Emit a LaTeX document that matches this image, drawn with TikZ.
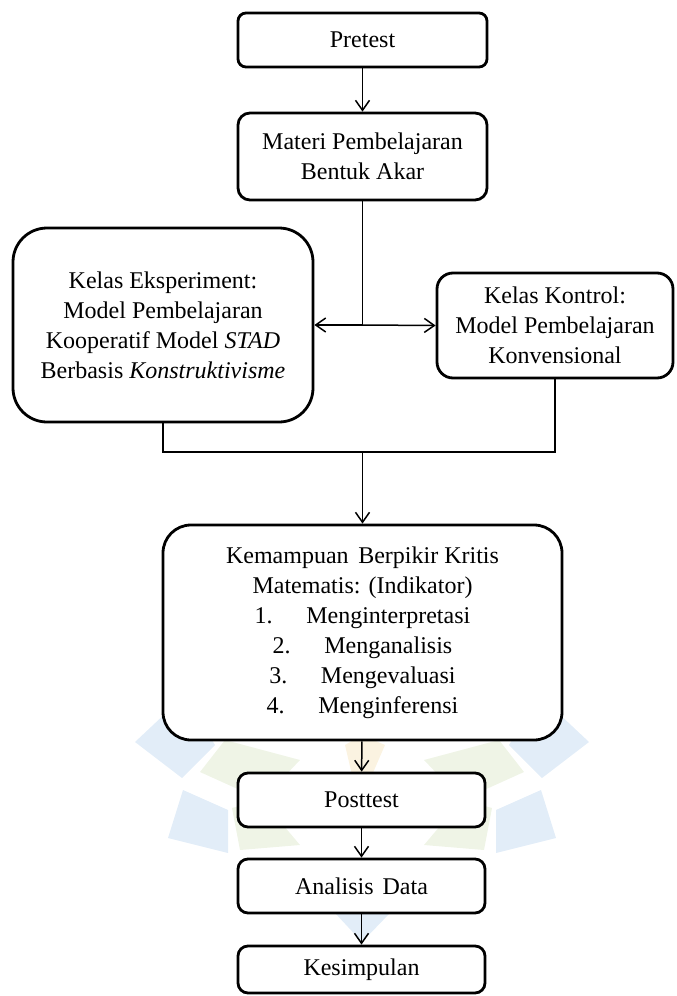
\documentclass[tikz,border=0pt]{standalone}
\usepackage{fontspec}
\setmainfont{Liberation Serif}
\usetikzlibrary{arrows.meta}
\definecolor{logobiru}{RGB}{226,237,248}
\definecolor{logohijau}{RGB}{239,244,230}
\definecolor{logooranye}{RGB}{251,243,225}

\begin{document}
\begin{tikzpicture}[x=0.5pt, y=-0.5pt,
    kotak/.style={draw, fill=white, line width=1.4pt, rounded corners=5pt, align=center,
                  font=\fontsize{12}{15}\selectfont, inner sep=2pt},
    panah/.style={-{Straight Barb[length=5pt,width=7pt]}, line width=0.75pt},
    garis/.style={line width=0.75pt}]

    \useasboundingbox (0,0) rectangle (676,996);

    % logo samar di latar
    \fill[logobiru] (135,742) -- (185,695) -- (215,745) -- (182,778) -- cycle;
    \fill[logobiru] (168,838) -- (183,790) -- (228,810) -- (228,853) -- cycle;
    \fill[logobiru] (589,742) -- (539,695) -- (509,745) -- (542,778) -- cycle;
    \fill[logobiru] (556,838) -- (541,790) -- (496,810) -- (496,853) -- cycle;
    \fill[logohijau] (200,772) -- (225,740) -- (300,760) -- (262,800) -- cycle;
    \fill[logohijau] (232,808) -- (262,800) -- (300,845) -- (240,850) -- cycle;
    \fill[logohijau] (524,772) -- (499,740) -- (424,760) -- (462,800) -- cycle;
    \fill[logohijau] (492,808) -- (462,800) -- (424,845) -- (484,850) -- cycle;
    \fill[logooranye] (345,745) -- (362,735) -- (385,745) -- (372,775) -- (352,775) -- cycle;
    \fill[logobiru] (335,913) -- (390,913) -- (362,942) -- cycle;

    % kotak-kotak
    \node[kotak, rounded corners=4pt, minimum width=124.5pt, minimum height=27pt] (pretest) at (362.5,40) {Pretest};
    \node[kotak, rounded corners=6pt, minimum width=124.5pt, minimum height=43.5pt] (materi) at (362.5,156.5) {Materi Pembelajaran\\ Bentuk Akar};

    \node[kotak, rounded corners=17pt, minimum width=150pt, minimum height=97pt] (eksperimen) at (163,325)
        {Kelas Eksperiment:\\ Model Pembelajaran\\ Kooperatif Model \textit{STAD}\\ Berbasis \textit{Konstruktivisme}};
    \node[kotak, rounded corners=8pt, minimum width=118pt, minimum height=52.5pt] (kontrol) at (555,325.5)
        {Kelas Kontrol:\\ Model Pembelajaran\\ Konvensional};

    \node[kotak, rounded corners=14pt, minimum width=199.5pt, minimum height=107.5pt] (kemampuan) at (362.5,632.5)
        {Kemampuan\hspace{0.15em} Berpikir Kritis\\ Matematis: (Indikator)\\
         1.\hspace{1.4em}Menginterpretasi\\ 2.\hspace{1.4em}Menganalisis\\
         3.\hspace{1.4em}Mengevaluasi\\ 4.\hspace{1.4em}Menginferensi};

    \node[kotak, minimum width=123.5pt, minimum height=27pt] (posttest) at (361.5,800) {Posttest};
    \node[kotak, minimum width=123.5pt, minimum height=27pt] (analisis) at (361.5,886) {Analisis\hspace{0.12em} Data};
    \node[kotak, minimum width=123.5pt, minimum height=23.5pt] (kesimpulan) at (361.5,969.5) {Kesimpulan};

    \coordinate (cabang) at (362.5,325);
    \coordinate (gabung) at (362.5,452);

    % penghubung
    \draw[panah] (pretest) -- (materi);
    \draw[garis] (materi.south) -- (cabang);
    \draw[panah] (cabang) -- (eksperimen.east);
    \draw[panah] (cabang) -- (kontrol.west);

    \draw[garis] (eksperimen.south) |- (gabung) -| (kontrol.south);
    \draw[panah] (gabung) -- (kemampuan.north);

    \draw[panah] (kemampuan) -- (posttest);
    \draw[panah] (posttest) -- (analisis);
    \draw[panah] (analisis) -- (kesimpulan);
\end{tikzpicture}
\end{document}
